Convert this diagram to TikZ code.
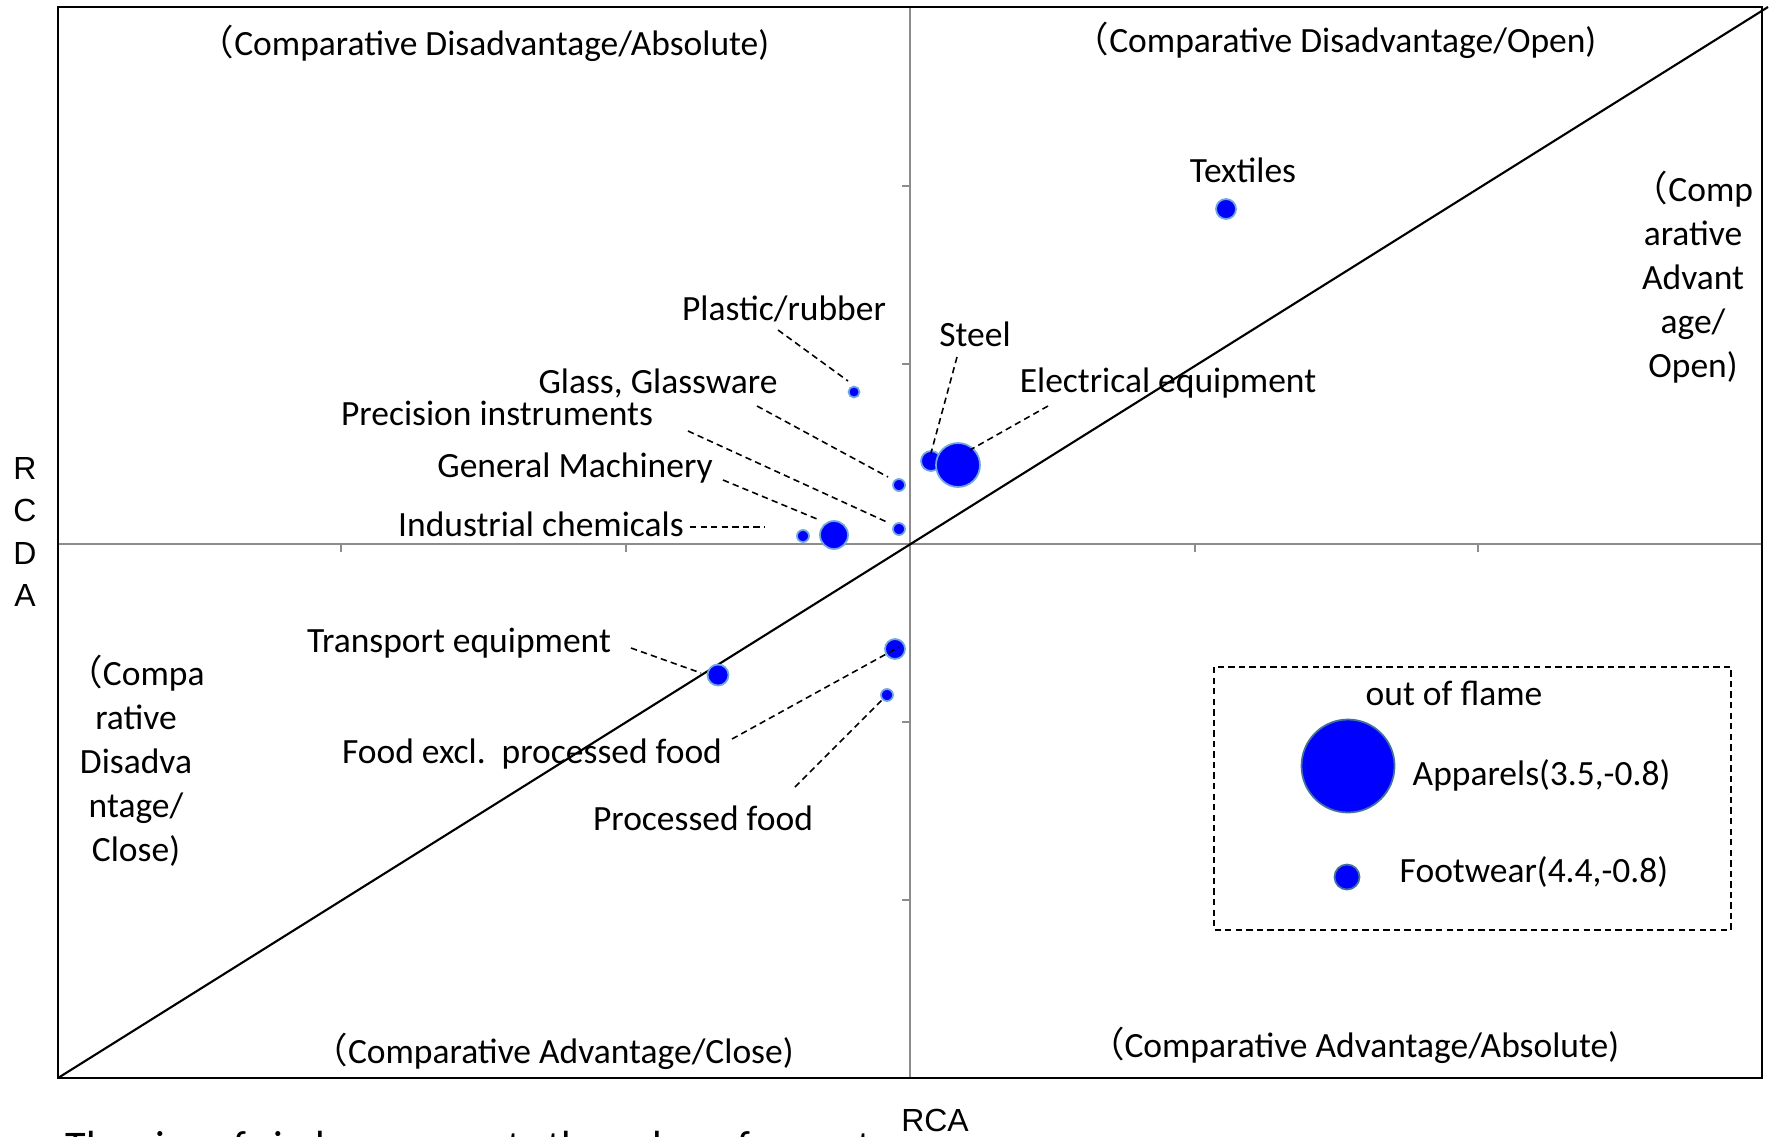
\documentclass[tikz,border=0pt]{standalone}
\usepackage{fontspec}
\setmainfont{Carlito}
\newfontfamily\arialfont{Liberation Sans}
\newfontfamily\cjkfont{Noto Sans CJK JP}
\newcommand{\fwp}{{\cjkfont （}}
\definecolor{dotedge}{HTML}{6FA8DC}
\definecolor{legedge}{HTML}{41719C}
\definecolor{axisgrey}{HTML}{8C8C8C}
\definecolor{dotblue}{HTML}{0000FF}
\tikzset{
  lbl/.style={inner sep=0pt, font=\fontsize{10.1pt}{12.5pt}\selectfont},
  quad/.style={inner sep=0pt, align=center, font=\fontsize{10.1pt}{12.5pt}\selectfont},
  axlbl/.style={inner sep=0pt, font=\arialfont\fontsize{9.1pt}{11pt}\selectfont},
  dot/.style={circle, fill=dotblue, draw=dotedge, line width=0.5pt, inner sep=0pt},
  legdot/.style={circle, fill=dotblue, draw=legedge, line width=0.5pt, inner sep=0pt},
  leader/.style={dash pattern=on 1.8pt off 1.2pt, line width=0.45pt},
  axisline/.style={draw=axisgrey, line width=0.55pt},
}
\begin{document}
\begin{tikzpicture}[x=0.1mm, y={(0mm,-0.1mm)}]
\useasboundingbox (0,0) rectangle (1777,1136);
% axes
\draw[axisline] (910,7) -- (910,1078);
\draw[axisline] (58,544) -- (1762,544);
\foreach \tx in {341,626,910,1195,1478} \draw[axisline] (\tx,544) -- (\tx,552);
\foreach \ty in {186,364,544,722,900} \draw[axisline] (902,\ty) -- (910,\ty);
% frame
\draw[line width=0.6pt] (58,7) rectangle (1762,1078);
% diagonal
\coordinate (dA) at (58,1078);
\coordinate (dB) at (1768,7);
\draw[line width=0.6pt] (dA) -- (dB);

% quadrant labels
\node[quad] (qtl) at (484,43) {\fwp Comparative Disadvantage/Absolute)};
\node[quad] (qtr) at (1335,40) {\fwp Comparative Disadvantage/Open)};
\node[quad] (qr) at (1693,277) {\fwp Comp\\arative\\Advant\\age/\\Open)};
\node[quad] (ql) at (136,761) {\fwp Compa\\rative\\Disadva\\ntage/\\Close)};
\node[quad] (qbl) at (553,1051) {\fwp Comparative Advantage/Close)};
\node[quad] (qbr) at (1354,1045) {\fwp Comparative Advantage/Absolute)};

% axis labels
\node[axlbl, align=center, font=\arialfont\fontsize{9.1pt}{12pt}\selectfont] (rcda) at (25,532) {R\\C\\D\\A};
\node[axlbl] (rca) at (935,1120) {RCA};

% dots
\node[dot, minimum size=2mm] (textiles) at (1226,209) {};
\node[dot, minimum size=1.1mm] (plastic) at (854,392) {};
\node[dot, minimum size=1.2mm] (glass) at (899,485) {};
\node[dot, minimum size=1.2mm] (precision) at (899,529) {};
\node[dot, minimum size=2.8mm] (general) at (834,535) {};
\node[dot, minimum size=1.2mm] (indchem) at (803,536) {};
\node[dot, minimum size=2mm] (steel) at (931,461) {};
\node[dot, minimum size=4.4mm] (elec) at (958,465) {};
\node[dot, minimum size=2.1mm] (transport) at (718,675) {};
\node[dot, minimum size=2mm] (foodex) at (895,649) {};
\node[dot, minimum size=1.2mm] (processed) at (887,695) {};

% labels
\node[lbl] (Ltextiles) at (1243,170) {Textiles};
\node[lbl] (Lplastic) at (784,309) {Plastic/rubber};
\node[lbl] (Lsteel) at (975,334) {Steel};
\node[lbl] (Lelec) at (1168,383) {Electrical equipment};
\node[lbl] (Lglass) at (658,383) {Glass, Glassware};
\node[lbl] (Lprecision) at (497,413) {Precision instruments};
\node[lbl] (Lgeneral) at (575,468) {General Machinery};
\node[lbl] (Lindchem) at (541,524) {Industrial chemicals};
\node[lbl] (Ltransport) at (459,643) {Transport equipment};
\node[lbl] (Lfoodex) at (532,754) {Food excl.\ \ processed food};
\node[lbl] (Lprocessed) at (703,818) {Processed food};

% leader ends
\coordinate (a1) at (778,330); \coordinate (b1) at (848,381);
\coordinate (a2) at (757,406); \coordinate (b2) at (888,477);
\coordinate (a3) at (688,431); \coordinate (b3) at (889,523);
\coordinate (a4) at (723,480); \coordinate (b4) at (817,519);
\coordinate (a5) at (690,527); \coordinate (b5) at (764,527);
\coordinate (a6) at (957,357); \coordinate (b6) at (931,453);
\coordinate (a7) at (1048,406); \coordinate (b7) at (970,450);
\coordinate (a8) at (631,648); \coordinate (b8) at (701,673);
\coordinate (a9) at (732,739); \coordinate (b9) at (899,647);
\coordinate (a10) at (795,787); \coordinate (b10) at (884,698);
\foreach \i in {1,...,10} \draw[leader] (a\i) -- (b\i);

% legend
\draw[leader, line width=0.5pt] (1214,667) rectangle (1731,930);
\node[lbl] (Lout) at (1454,693) {out of flame};
\node[legdot, minimum size=9.3mm] (apparels) at (1348,766) {};
\node[legdot, minimum size=2.5mm] (footwear) at (1347,877) {};
\node[lbl, anchor=west] (Lapparels) at (1412,775) {Apparels(3.5,-0.8)};
\node[lbl, anchor=west] (Lfootwear) at (1399,872) {Footwear(4.4,-0.8)};

% cut-off caption (cut off at the lower edge in the reference)
\begin{scope}
\clip (0,0) rectangle (1777,1136);
\node[inner sep=0pt, anchor=base west, font=\fontsize{12pt}{14pt}\selectfont] (caption) at (65,1160) {The size of circle represents the value of exports};
\end{scope}
\end{tikzpicture}
\end{document}
